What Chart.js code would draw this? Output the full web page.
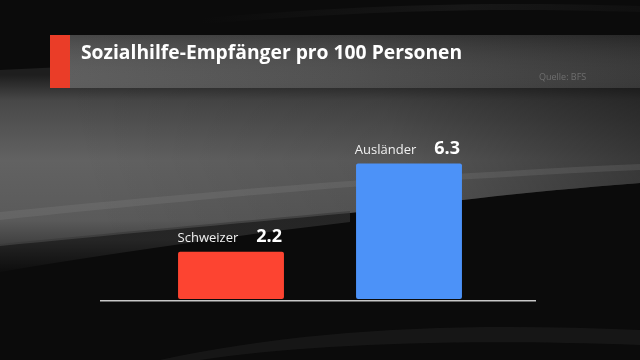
<!DOCTYPE html>
<html>
<head>
<meta charset="utf-8">
<script src="https://cdn.jsdelivr.net/npm/chart.js@4/dist/chart.umd.min.js"></script>
<style>
  html, body { margin: 0; padding: 0; background: #0b0b0b; }
  #wrap { position: relative; width: 640px; height: 360px; overflow: hidden; }
  canvas { display: block; }
</style>
</head>
<body>
<div id="wrap"><canvas id="c" width="640" height="360"></canvas></div>
<script>
const title = "Sozialhilfe-Empfänger pro 100 Personen";
const source = "Quelle: BFS";
const categories = ["Schweizer", "Ausländer"];
const values = [2.2, 6.3];
const valueLabels = ["2.2", "6.3"];
const barColors = ["#fd4431", "#4c92f8"];

const backgroundPlugin = {
  id: "bg",
  beforeDraw(chart) {
    const ctx = chart.ctx;
    const W = chart.width, H = chart.height;
    ctx.save();
    ctx.fillStyle = "#0b0b0b";
    ctx.fillRect(0, 0, W, H);
    // faint arc at top right
    const ga = ctx.createLinearGradient(200, 0, 640, 0);
    ga.addColorStop(0, "rgba(60,60,60,0)");
    ga.addColorStop(0.6, "rgba(60,60,60,0.25)");
    ga.addColorStop(1, "rgba(60,60,60,0.1)");
    ctx.beginPath();
    ctx.moveTo(200, 18);
    ctx.bezierCurveTo(330, 8, 450, 0, 640, 6);
    ctx.lineTo(640, 12);
    ctx.bezierCurveTo(450, 6, 330, 14, 200, 24);
    ctx.closePath();
    ctx.fillStyle = ga;
    ctx.fill();
    // main gray band
    ctx.beginPath();
    ctx.moveTo(0, 70);
    ctx.lineTo(640, 40);
    ctx.lineTo(640, 183);
    ctx.bezierCurveTo(520, 192, 420, 205, 350, 213);
    ctx.bezierCurveTo(230, 224, 100, 236, 0, 246);
    ctx.closePath();
    const g1 = ctx.createLinearGradient(0, 75, 0, 246);
    g1.addColorStop(0, "rgba(30,30,30,1)");
    g1.addColorStop(0.15, "rgba(72,72,72,1)");
    g1.addColorStop(0.5, "rgba(98,98,98,1)");
    g1.addColorStop(0.85, "rgba(90,90,90,1)");
    g1.addColorStop(1, "rgba(62,62,62,1)");
    ctx.fillStyle = g1;
    ctx.fill();
    // darker toward upper-right
    const g2 = ctx.createLinearGradient(100, 240, 640, 80);
    g2.addColorStop(0, "rgba(0,0,0,0)");
    g2.addColorStop(0.55, "rgba(0,0,0,0.12)");
    g2.addColorStop(1, "rgba(0,0,0,0.45)");
    ctx.fillStyle = g2;
    ctx.fill();
    // soft fade below band at left
    const g5 = ctx.createLinearGradient(0, 240, 0, 275);
    g5.addColorStop(0, "rgba(55,55,55,0.6)");
    g5.addColorStop(1, "rgba(55,55,55,0)");
    ctx.beginPath();
    ctx.moveTo(0, 244);
    ctx.bezierCurveTo(100, 234, 230, 222, 350, 211);
    ctx.lineTo(350, 222);
    ctx.bezierCurveTo(230, 236, 100, 255, 0, 272);
    ctx.closePath();
    ctx.fillStyle = g5;
    ctx.fill();
    // light diagonal streak
    ctx.beginPath();
    ctx.moveTo(0, 212);
    ctx.bezierCurveTo(120, 200, 250, 188, 350, 181);
    ctx.bezierCurveTo(450, 174, 550, 168, 640, 164);
    ctx.lineTo(640, 170);
    ctx.bezierCurveTo(550, 174, 450, 180, 350, 187);
    ctx.bezierCurveTo(250, 195, 120, 207, 0, 220);
    ctx.closePath();
    ctx.fillStyle = "rgba(150,150,150,0.18)";
    ctx.fill();
    // bottom faint arc
    ctx.beginPath();
    ctx.moveTo(160, 360);
    ctx.bezierCurveTo(300, 330, 450, 322, 640, 330);
    ctx.lineTo(640, 345);
    ctx.bezierCurveTo(450, 338, 300, 345, 200, 360);
    ctx.closePath();
    ctx.fillStyle = "rgba(40,40,40,0.4)";
    ctx.fill();
    // title bar
    const g3 = ctx.createLinearGradient(50, 88, 640, 35);
    g3.addColorStop(0, "rgba(88,88,88,1)");
    g3.addColorStop(0.5, "rgba(72,72,72,1)");
    g3.addColorStop(1, "rgba(48,48,48,1)");
    ctx.fillStyle = g3;
    ctx.fillRect(50, 35, 590, 53);
    const g4 = ctx.createLinearGradient(0, 35, 0, 88);
    g4.addColorStop(0, "rgba(0,0,0,0.18)");
    g4.addColorStop(1, "rgba(255,255,255,0.04)");
    ctx.fillStyle = g4;
    ctx.fillRect(50, 35, 590, 53);
    ctx.fillStyle = "#ea3d28";
    ctx.fillRect(50, 35, 20, 53);
    ctx.fillStyle = "#ffffff";
    ctx.font = "bold 19.3px 'Open Sans', sans-serif";
    ctx.textBaseline = "alphabetic";
    ctx.textAlign = "left";
    ctx.fillText(title, 81, 59);
    ctx.fillStyle = "#6e6e6e";
    ctx.font = "9px 'Open Sans', sans-serif";
    ctx.fillText(source, 539, 80);
    ctx.restore();
  }
};

const labelsPlugin = {
  id: "labels",
  afterDatasetsDraw(chart) {
    const ctx = chart.ctx;
    const yScale = chart.scales.y;
    const zeroY = yScale.getPixelForValue(0);
    ctx.save();
    ctx.strokeStyle = "#c8c8c8";
    ctx.lineWidth = 1.5;
    ctx.beginPath();
    ctx.moveTo(chart.chartArea.left - 42, zeroY + 1.8);
    ctx.lineTo(chart.chartArea.right + 38, zeroY + 1.8);
    ctx.stroke();
    const meta = chart.getDatasetMeta(0);
    meta.data.forEach((bar, i) => {
      const right = bar.x + bar.width / 2;
      const top = bar.y;
      ctx.textBaseline = "alphabetic";
      ctx.textAlign = "right";
      ctx.fillStyle = "#ffffff";
      ctx.font = "bold 18px 'Open Sans', sans-serif";
      ctx.fillText(valueLabels[i], right - 2, top - 10);
      const vw = ctx.measureText(valueLabels[i]).width;
      ctx.font = "13px 'Open Sans', sans-serif";
      ctx.fillStyle = "#f0f0f0";
      ctx.fillText(categories[i], right - 2 - vw - 18, top - 10);
    });
    ctx.restore();
  }
};

new Chart(document.getElementById("c"), {
  type: "bar",
  data: {
    labels: categories,
    datasets: [{
      data: values,
      backgroundColor: barColors,
      borderWidth: 0,
      borderRadius: 2,
      borderSkipped: false,
      barPercentage: 0.595,
      categoryPercentage: 1
    }]
  },
  options: {
    responsive: false,
    animation: false,
    devicePixelRatio: 1,
    layout: { padding: { left: 142, right: 142, top: 127, bottom: 61 } },
    plugins: { legend: { display: false }, tooltip: { enabled: false }, title: { display: false } },
    scales: {
      x: { display: false },
      y: { display: false, min: 0, max: 8 }
    }
  },
  plugins: [backgroundPlugin, labelsPlugin]
});
</script>
</body>
</html>
